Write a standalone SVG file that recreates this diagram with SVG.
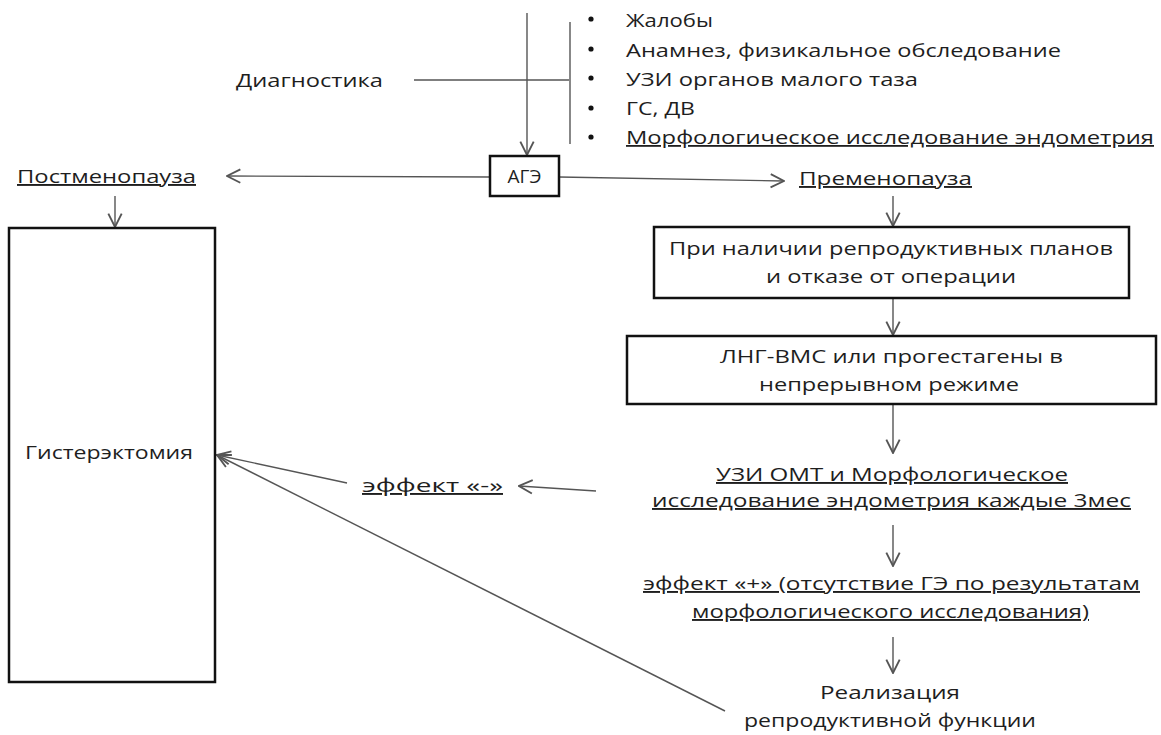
<svg xmlns="http://www.w3.org/2000/svg" width="1161" height="735" viewBox="0 0 1161 735">
<style>
text{font-family:"Open Sans","Liberation Sans",sans-serif;font-size:19px;fill:#1e1e1e}
.l{font-size:18px}
.c{text-anchor:middle}
.u{text-decoration:underline}
.box{fill:#fff;stroke:#111;stroke-width:2.5}
.ln{stroke:#555;stroke-width:1.4;fill:none}
.bul{fill:#111}
</style>
<defs>
<marker id="ah" markerUnits="userSpaceOnUse" markerWidth="16" markerHeight="16" refX="11" refY="6" orient="auto" viewBox="0 0 12 12">
<path d="M1,1 L11,6 L1,11" fill="none" stroke="#555" stroke-width="1.4"/>
</marker>
</defs>
<rect width="1161" height="735" fill="#fff"/>

<g id="connectors">
<line class="ln" x1="527" y1="13" x2="527" y2="155" marker-end="url(#ah)"/>
<line class="ln" x1="414" y1="80" x2="569" y2="80"/>
<line class="ln" x1="570" y1="22" x2="570" y2="144"/>
<line class="ln" x1="490" y1="177" x2="227" y2="176" marker-end="url(#ah)"/>
<line class="ln" x1="559" y1="177" x2="784" y2="181" marker-end="url(#ah)"/>
<line class="ln" x1="115" y1="196" x2="115" y2="227" marker-end="url(#ah)"/>
<line class="ln" x1="893" y1="196" x2="893" y2="226" marker-end="url(#ah)"/>
<line class="ln" x1="893" y1="298" x2="893" y2="335" marker-end="url(#ah)"/>
<line class="ln" x1="893" y1="404" x2="893" y2="453" marker-end="url(#ah)"/>
<line class="ln" x1="893" y1="525" x2="893" y2="566" marker-end="url(#ah)"/>
<line class="ln" x1="893" y1="637" x2="893" y2="673" marker-end="url(#ah)"/>
<line class="ln" x1="596" y1="491" x2="519" y2="486" marker-end="url(#ah)"/>
<line class="ln" x1="347" y1="483" x2="217" y2="455" marker-end="url(#ah)"/>
<line class="ln" x1="725" y1="711" x2="217" y2="455" marker-end="url(#ah)"/>
</g>

<g id="diagnostika">
<text x="236" y="87" textLength="147" lengthAdjust="spacingAndGlyphs">Диагностика</text>
</g>

<g id="diag-list">
<circle class="bul" cx="591" cy="19" r="2.6"/>
<circle class="bul" cx="591" cy="49" r="2.6"/>
<circle class="bul" cx="591" cy="78" r="2.6"/>
<circle class="bul" cx="591" cy="108" r="2.6"/>
<circle class="bul" cx="591" cy="137" r="2.6"/>
<text class="l" x="626" y="27" textLength="87" lengthAdjust="spacingAndGlyphs">Жалобы</text>
<text class="l" x="626" y="57" textLength="435" lengthAdjust="spacingAndGlyphs">Анамнез, физикальное обследование</text>
<text class="l" x="626" y="86" textLength="292" lengthAdjust="spacingAndGlyphs">УЗИ органов малого таза</text>
<text class="l" x="626" y="115" textLength="69" lengthAdjust="spacingAndGlyphs">ГС, ДВ</text>
<text class="l u" x="626" y="144" textLength="528" lengthAdjust="spacingAndGlyphs">Морфологическое исследование эндометрия</text>
</g>

<g id="age">
<rect class="box" x="490" y="156" width="69" height="40"/>
<text class="c" x="524.5" y="183" font-size="18">АГЭ</text>
</g>

<g id="postmenopause">
<text class="u" x="17" y="183" textLength="179" lengthAdjust="spacingAndGlyphs">Постменопауза</text>
</g>

<g id="premenopause">
<text class="u" x="799" y="185" textLength="173" lengthAdjust="spacingAndGlyphs">Пременопауза</text>
</g>

<g id="hysterectomy">
<rect class="box" x="9" y="228" width="206" height="454"/>
<text x="25" y="459" textLength="168" lengthAdjust="spacingAndGlyphs">Гистерэктомия</text>
</g>

<g id="box-plans">
<rect class="box" x="654" y="227" width="475" height="71"/>
<text x="669" y="255" textLength="444" lengthAdjust="spacingAndGlyphs">При наличии репродуктивных планов</text>
<text x="766" y="283" textLength="250" lengthAdjust="spacingAndGlyphs">и отказе от операции</text>
</g>

<g id="box-lng">
<rect class="box" x="627" y="336" width="529" height="68"/>
<text x="720" y="363" textLength="343" lengthAdjust="spacingAndGlyphs">ЛНГ-ВМС или прогестагены в</text>
<text x="759" y="391" textLength="260" lengthAdjust="spacingAndGlyphs">непрерывном режиме</text>
</g>

<g id="uzi-omt">
<text class="u" x="716" y="481" textLength="352" lengthAdjust="spacingAndGlyphs">УЗИ ОМТ и Морфологическое </text>
<text class="u" x="652" y="507" textLength="479" lengthAdjust="spacingAndGlyphs">исследование эндометрия  каждые 3мес</text>
</g>

<g id="effect-minus">
<text class="u" x="362" y="492" textLength="141" lengthAdjust="spacingAndGlyphs">эффект  «-»</text>
</g>

<g id="effect-plus">
<text class="u" x="643" y="590" textLength="497" lengthAdjust="spacingAndGlyphs">эффект «+» (отсутствие ГЭ по результатам </text>
<text class="u" x="692" y="618" textLength="397" lengthAdjust="spacingAndGlyphs">морфологического исследования)</text>
</g>

<g id="realization">
<text x="820" y="699" textLength="140" lengthAdjust="spacingAndGlyphs">Реализация</text>
<text x="744" y="727" textLength="292" lengthAdjust="spacingAndGlyphs">репродуктивной функции</text>
</g>
</svg>
